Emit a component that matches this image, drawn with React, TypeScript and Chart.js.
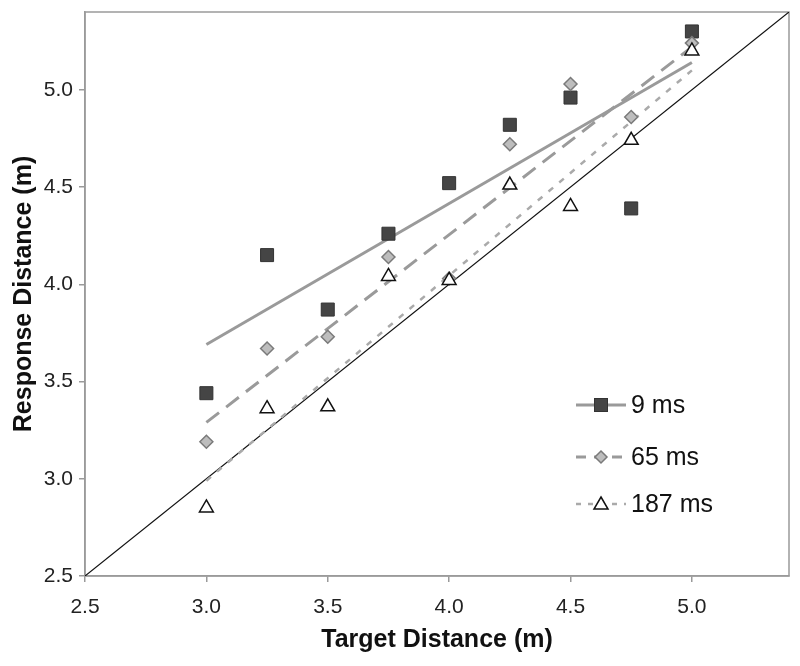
import React, { useEffect, useRef } from "react";
import { Chart, registerables } from "chart.js";

Chart.register(...registerables);

const targetX = [3.0, 3.25, 3.5, 3.75, 4.0, 4.25, 4.5, 4.75, 5.0];
const resp9 = [3.44, 4.15, 3.87, 4.26, 4.52, 4.82, 4.96, 4.39, 5.3];
const resp65 = [3.19, 3.67, 3.73, 4.14, 4.03, 4.72, 5.03, 4.86, 5.24];
const resp187 = [2.85, 3.36, 3.37, 4.04, 4.02, 4.51, 4.4, 4.74, 5.2];

const trendX = [3.0, 5.0];
const trend9 = [3.69, 5.14];
const trend65 = [3.29, 5.22];
const trend187 = [2.99, 5.1];

const identityXY = [2.5, 5.4];
const tickValues = [2.5, 3.0, 3.5, 4.0, 4.5, 5.0];
const legendLabels = ["9 ms", "65 ms", "187 ms"];

const FONT = "'Liberation Sans', Arial, Helvetica, sans-serif";

const pts = (xs: number[], ys: number[]) => xs.map((x, i) => ({ x, y: ys[i] }));

function drawMarker(ctx: CanvasRenderingContext2D, kind: number, x: number, y: number) {
  ctx.save();
  if (kind === 0) {
    ctx.fillStyle = "#454545";
    ctx.strokeStyle = "#333333";
    ctx.lineWidth = 1;
    ctx.fillRect(x - 6.5, y - 6.5, 13, 13);
    ctx.strokeRect(x - 6.5, y - 6.5, 13, 13);
  } else if (kind === 1) {
    ctx.fillStyle = "#bdbdbd";
    ctx.strokeStyle = "#7a7a7a";
    ctx.lineWidth = 1.5;
    ctx.beginPath();
    ctx.moveTo(x, y - 6);
    ctx.lineTo(x + 6, y);
    ctx.lineTo(x, y + 6);
    ctx.lineTo(x - 6, y);
    ctx.closePath();
    ctx.fill();
    ctx.stroke();
  } else {
    ctx.fillStyle = "#ffffff";
    ctx.strokeStyle = "#111111";
    ctx.lineWidth = 1.5;
    ctx.beginPath();
    ctx.moveTo(x, y - 7);
    ctx.lineTo(x + 7, y + 5);
    ctx.lineTo(x - 7, y + 5);
    ctx.closePath();
    ctx.fill();
    ctx.stroke();
  }
  ctx.restore();
}

const framePlugin = {
  id: "frame",
  beforeDatasetsDraw(chart: any) {
    const { ctx, chartArea } = chart;
    const { left, top, right, bottom } = chartArea;
    ctx.save();
    ctx.strokeStyle = "#9a9a9a";
    ctx.lineWidth = 1.5;
    ctx.strokeRect(left, top, right - left, bottom - top);
    ctx.restore();
  },
  afterDatasetsDraw(chart: any) {
    const { ctx, chartArea } = chart;
    const x0 = chartArea.left + 491;
    const x1 = chartArea.left + 541;
    const xm = (x0 + x1) / 2;
    const rows = [chartArea.top + 393, chartArea.top + 445, chartArea.top + 492];
    const dashes = [[], [10, 8], [5, 7]];
    const widths = [3, 3, 2.5];
    const colors = ["#9a9a9a", "#9a9a9a", "#aaaaaa"];
    ctx.save();
    rows.forEach((y, i) => {
      ctx.save();
      ctx.strokeStyle = colors[i];
      ctx.lineWidth = widths[i];
      ctx.setLineDash(dashes[i]);
      ctx.beginPath();
      ctx.moveTo(x0, y);
      ctx.lineTo(x1, y);
      ctx.stroke();
      ctx.restore();
      drawMarker(ctx, i, xm, y);
      ctx.fillStyle = "#111111";
      ctx.font = `25px ${FONT}`;
      ctx.textAlign = "left";
      ctx.textBaseline = "middle";
      ctx.fillText(legendLabels[i], x1 + 5, y + 1);
    });
    ctx.restore();
  },
};

export default function App() {
  const ref = useRef<HTMLCanvasElement | null>(null);

  useEffect(() => {
    if (!ref.current) return;
    const chart = new Chart(ref.current, {
      type: "scatter",
      data: {
        datasets: [
          {
            label: "187 ms",
            data: pts(targetX, resp187),
            pointStyle: "triangle",
            pointRadius: 8,
            backgroundColor: "#ffffff",
            borderColor: "#111111",
            borderWidth: 1.5,
            order: 1,
          },
          {
            label: "65 ms",
            data: pts(targetX, resp65),
            pointStyle: "rectRot",
            pointRadius: 6.5,
            backgroundColor: "#bdbdbd",
            borderColor: "#7a7a7a",
            borderWidth: 1.5,
            order: 2,
          },
          {
            label: "9 ms",
            data: pts(targetX, resp9),
            pointStyle: "rect",
            pointRadius: 9.2,
            backgroundColor: "#454545",
            borderColor: "#333333",
            borderWidth: 1,
            order: 3,
          },
          {
            type: "line",
            label: "trend 9",
            data: pts(trendX, trend9),
            borderColor: "#9a9a9a",
            borderWidth: 3,
            pointRadius: 0,
            order: 4,
          } as any,
          {
            type: "line",
            label: "trend 65",
            data: pts(trendX, trend65),
            borderColor: "#9a9a9a",
            borderWidth: 3,
            borderDash: [16, 9],
            pointRadius: 0,
            order: 5,
          } as any,
          {
            type: "line",
            label: "trend 187",
            data: pts(trendX, trend187),
            borderColor: "#aaaaaa",
            borderWidth: 2.5,
            borderDash: [6, 8],
            pointRadius: 0,
            order: 6,
          } as any,
          {
            type: "line",
            label: "identity",
            data: pts(identityXY, identityXY),
            borderColor: "#111111",
            borderWidth: 1.2,
            pointRadius: 0,
            order: 7,
          } as any,
        ],
      },
      options: {
        animation: false,
        responsive: false,
        maintainAspectRatio: false,
        layout: { padding: { top: 12, right: 11, left: 0, bottom: 0 } },
        plugins: { legend: { display: false }, tooltip: { enabled: false } },
        scales: {
          x: {
            type: "linear",
            min: 2.5,
            max: 5.4,
            afterFit: (s: any) => {
              s.height = 90;
              s.paddingLeft = 0;
              s.paddingRight = 0;
            },
            afterBuildTicks: (s: any) => {
              s.ticks = tickValues.map((v) => ({ value: v }));
            },
            ticks: {
              padding: 13,
              color: "#222222",
              font: { family: FONT, size: 21 },
              callback: (v: any) => Number(v).toFixed(1),
            },
            grid: {
              drawOnChartArea: false,
              drawTicks: true,
              tickLength: 6,
              color: "#9a9a9a",
              lineWidth: 1.5,
            },
            border: { color: "#9a9a9a", width: 1.5 },
            title: {
              display: true,
              text: "Target Distance (m)",
              color: "#111111",
              font: { family: FONT, size: 25, weight: "bold" },
              padding: { top: 0, bottom: 11 },
            },
          },
          y: {
            type: "linear",
            min: 2.5,
            max: 5.4,
            afterFit: (s: any) => {
              s.width = 85;
              s.paddingTop = 0;
              s.paddingBottom = 0;
            },
            afterBuildTicks: (s: any) => {
              s.ticks = tickValues.map((v) => ({ value: v }));
            },
            ticks: {
              padding: 6,
              color: "#222222",
              font: { family: FONT, size: 21 },
              callback: (v: any) => Number(v).toFixed(1),
            },
            grid: {
              drawOnChartArea: false,
              drawTicks: true,
              tickLength: 6,
              color: "#9a9a9a",
              lineWidth: 1.5,
            },
            border: { color: "#9a9a9a", width: 1.5 },
            title: {
              display: true,
              text: "Response Distance (m)",
              color: "#111111",
              font: { family: FONT, size: 25, weight: "bold" },
              padding: { top: 9, bottom: 0 },
            },
          },
        },
      },
      plugins: [framePlugin],
    } as any);
    return () => chart.destroy();
  }, []);

  return (
    <div style={{ position: "absolute", left: 0, top: 0, width: 800, height: 666, background: "#ffffff" }}>
      <canvas ref={ref} width={800} height={666} style={{ display: "block" }} />
    </div>
  );
}
